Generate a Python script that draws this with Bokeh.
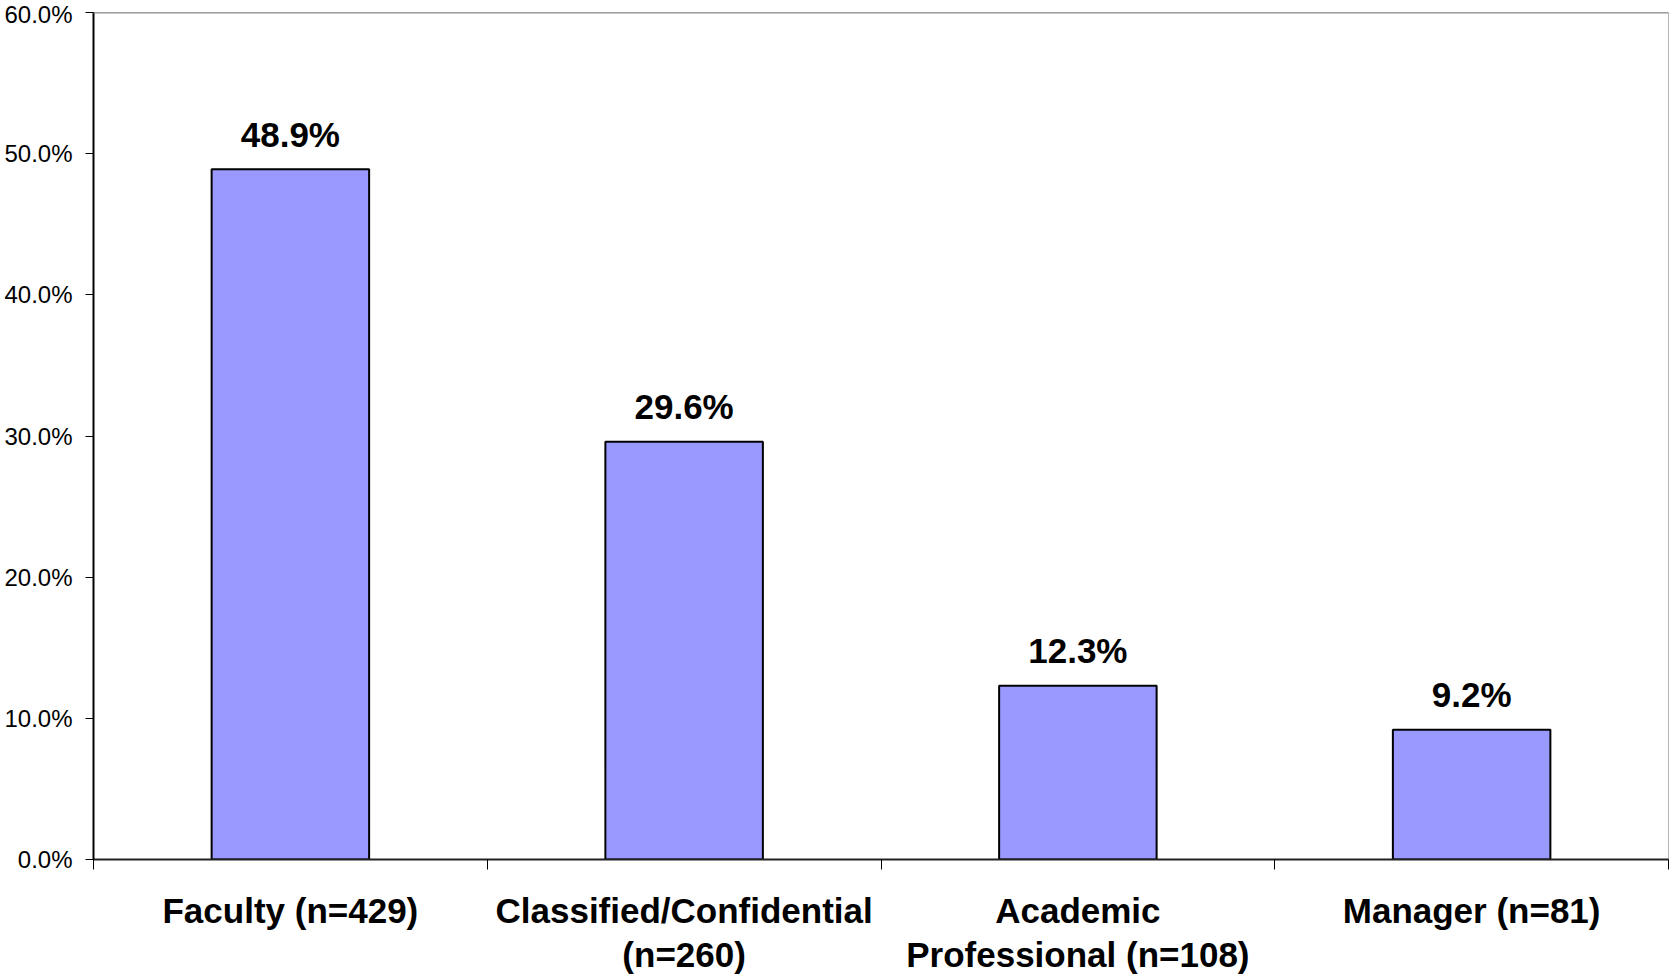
import numpy as np
from bokeh.plotting import figure
from bokeh.models import (Range1d, FixedTicker, NumeralTickFormatter, Span)
from bokeh.core.properties import value
from bokeh.embed import file_html
from bokeh.resources import INLINE

categories = ["Faculty (n=429)", "Classified/Confidential\n(n=260)",
              "Academic\nProfessional (n=108)", "Manager (n=81)"]
shares = [0.489, 0.296, 0.123, 0.092]
share_labels = ["48.9%", "29.6%", "12.3%", "9.2%"]
y_ticks = [0.0, 0.1, 0.2, 0.3, 0.4, 0.5, 0.6]

n = len(categories)
centers = [i + 0.5 for i in range(n)]

p = figure(width=1669, height=976, output_backend="svg", toolbar_location=None,
           x_range=Range1d(0, n), y_range=Range1d(0, 0.6),
           min_border_left=93, min_border_right=1, min_border_top=12, min_border_bottom=117)
p.background_fill_color = "white"
p.border_fill_color = "white"
p.outline_line_color = "#b4b4b4"
p.outline_line_width = 1
p.xgrid.visible = False
p.ygrid.visible = False

p.vbar(x=centers, top=shares, bottom=0, width=0.4, fill_color="#9999FF",
       line_color="black", line_width=2)

p.text(x=centers, y=shares, text=share_labels, text_align="center",
       text_baseline="alphabetic", y_offset=-35, text_font=value("Liberation Sans"),
       text_font_style="bold", text_font_size="35px", text_color="black")

p.add_layout(Span(location=0.6, dimension="width", line_color="#8c8c8c", line_width=2))

# y axis
ya = p.yaxis[0]
ya.ticker = FixedTicker(ticks=y_ticks)
ya.formatter = NumeralTickFormatter(format="0.0%")
ya.major_label_text_font = "Liberation Sans"
ya.major_label_text_font_size = "24px"
ya.major_label_text_color = "black"
ya.axis_line_color = "black"
ya.axis_line_width = 2
ya.major_tick_in = 0
ya.major_tick_out = 8
ya.major_tick_line_color = "black"
ya.major_tick_line_width = 1
ya.minor_tick_line_color = None
ya.major_label_standoff = 13

# x axis
xa = p.xaxis[0]
xa.ticker = FixedTicker(ticks=centers, minor_ticks=list(range(n + 1)))
xa.major_label_overrides = {c: lab for c, lab in zip(centers, categories)}
xa.major_label_text_font = "Liberation Sans"
xa.major_label_text_font_style = "bold"
xa.major_label_text_font_size = "35px"
xa.major_label_text_color = "black"
xa.major_label_text_line_height = 1.14
xa.major_tick_in = 0
xa.major_tick_out = 0
xa.minor_tick_in = 0
xa.minor_tick_out = 10
xa.minor_tick_line_color = "black"
xa.minor_tick_line_width = 1
xa.axis_line_color = "#222222"
xa.axis_line_width = 2
xa.major_label_standoff = 21

open("out.html", "w").write(file_html(p, INLINE))
